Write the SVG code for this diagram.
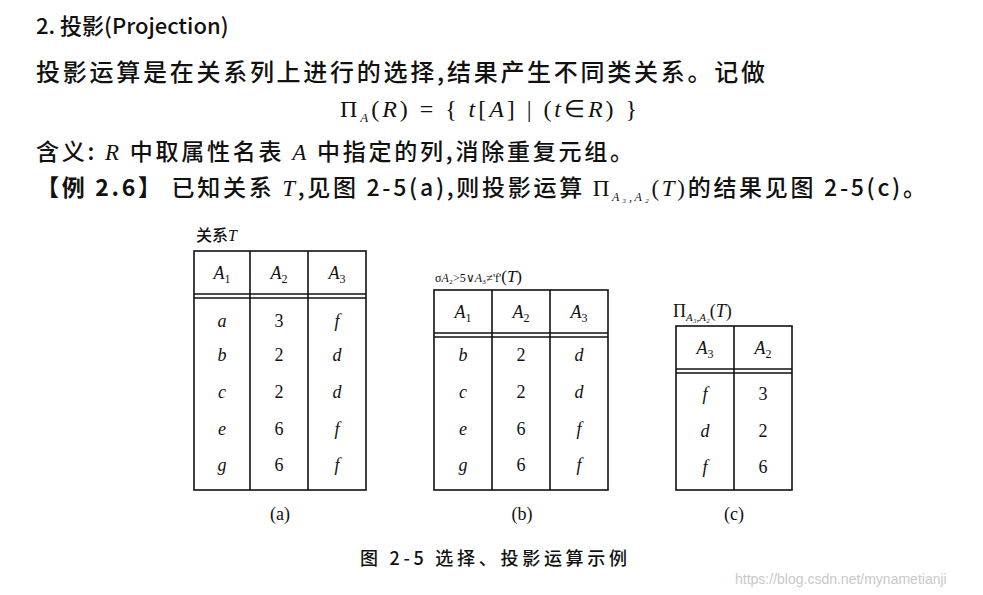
<svg xmlns="http://www.w3.org/2000/svg" width="983" height="595" viewBox="0 0 983 595">
<style>
.cn{font-family:"Noto Sans CJK SC","Liberation Sans",sans-serif;fill:#111;font-weight:500}
.m{font-family:"Liberation Serif",serif;fill:#111}
.i{font-family:"Liberation Serif",serif;font-style:italic;fill:#111}
.c{font-family:"Liberation Serif",serif;font-style:italic;fill:#111;font-size:18px;text-anchor:middle}
.n{font-family:"Liberation Serif",serif;fill:#111;font-size:18px;text-anchor:middle}
.t{fill:none;stroke:#111;stroke-width:1.6}
</style>
<rect width="983" height="595" fill="#fff"/>
<g id="text">
<text x="36" y="34" class="cn" font-size="22">2. 投影(Projection)</text>
<text x="36" y="81" class="cn" font-size="24" textLength="729" lengthAdjust="spacing">投影运算是在关系列上进行的选择,结果产生不同类关系。记做</text>
<text x="340" y="117" class="m" font-size="24" textLength="297" lengthAdjust="spacing">Π<tspan font-size="13" dy="5" font-style="italic">A</tspan><tspan dy="-5">(</tspan><tspan font-style="italic">R</tspan>) = { <tspan font-style="italic">t</tspan>[<tspan font-style="italic">A</tspan>] | (<tspan font-style="italic">t</tspan>∈<tspan font-style="italic">R</tspan>) }</text>
<text x="36" y="160" class="cn" font-size="23" textLength="597" lengthAdjust="spacing">含义: <tspan class="i">R</tspan> 中取属性名表 <tspan class="i">A</tspan> 中指定的列,消除重复元组。</text>
<text x="36" y="196" class="cn" font-size="23" textLength="890" lengthAdjust="spacing"><tspan font-weight="bold">【例 2.6】</tspan> 已知关系 <tspan class="i">T</tspan>,见图 2-5(a),则投影运算 <tspan class="m">Π<tspan font-size="12" dy="5" font-style="italic">A₃,A₂</tspan><tspan dy="-5">(</tspan><tspan font-style="italic">T</tspan>)</tspan>的结果见图 2-5(c)。</text>
</g>
<g id="tableA">
<text x="196" y="241" class="cn" font-size="16">关系<tspan class="i">T</tspan></text>
<rect x="194" y="251" width="172" height="239" class="t"/>
<line x1="250" y1="251" x2="250" y2="490" class="t"/><line x1="308" y1="251" x2="308" y2="490" class="t"/>
<line x1="194" y1="294" x2="366" y2="294" class="t"/><line x1="194" y1="298" x2="366" y2="298" class="t"/>
<text x="222" y="279" class="c">A<tspan font-size="12" dy="4" font-style="normal">1</tspan></text>
<text x="279" y="279" class="c">A<tspan font-size="12" dy="4" font-style="normal">2</tspan></text>
<text x="337" y="279" class="c">A<tspan font-size="12" dy="4" font-style="normal">3</tspan></text>
<text x="222" y="327" class="c">a</text><text x="279" y="327" class="n">3</text><text x="337" y="327" class="c">f</text>
<text x="222" y="361" class="c">b</text><text x="279" y="361" class="n">2</text><text x="337" y="361" class="c">d</text>
<text x="222" y="398" class="c">c</text><text x="279" y="398" class="n">2</text><text x="337" y="398" class="c">d</text>
<text x="222" y="435" class="c">e</text><text x="279" y="435" class="n">6</text><text x="337" y="435" class="c">f</text>
<text x="222" y="471" class="c">g</text><text x="279" y="471" class="n">6</text><text x="337" y="471" class="c">f</text>
<text x="280" y="520" class="n">(a)</text>
</g>
<g id="tableB">
<text x="435" y="282" class="m" font-size="12">σ<tspan font-style="italic">A</tspan>₂&gt;5∨<tspan font-style="italic">A</tspan>₃≠'f'<tspan font-size="17">(<tspan font-style="italic">T</tspan>)</tspan></text>
<rect x="434" y="290" width="174" height="200" class="t"/>
<line x1="492" y1="290" x2="492" y2="490" class="t"/><line x1="550" y1="290" x2="550" y2="490" class="t"/>
<line x1="434" y1="333" x2="608" y2="333" class="t"/><line x1="434" y1="337" x2="608" y2="337" class="t"/>
<text x="463" y="318" class="c">A<tspan font-size="12" dy="4" font-style="normal">1</tspan></text>
<text x="521" y="318" class="c">A<tspan font-size="12" dy="4" font-style="normal">2</tspan></text>
<text x="579" y="318" class="c">A<tspan font-size="12" dy="4" font-style="normal">3</tspan></text>
<text x="463" y="361" class="c">b</text><text x="521" y="361" class="n">2</text><text x="579" y="361" class="c">d</text>
<text x="463" y="398" class="c">c</text><text x="521" y="398" class="n">2</text><text x="579" y="398" class="c">d</text>
<text x="463" y="435" class="c">e</text><text x="521" y="435" class="n">6</text><text x="579" y="435" class="c">f</text>
<text x="463" y="471" class="c">g</text><text x="521" y="471" class="n">6</text><text x="579" y="471" class="c">f</text>
<text x="522" y="520" class="n">(b)</text>
</g>
<g id="tableC">
<text x="673" y="317" class="m" font-size="18">Π<tspan font-size="11" dy="4" font-style="italic">A₃,A₂</tspan><tspan dy="-4">(</tspan><tspan font-style="italic">T</tspan>)</text>
<rect x="676" y="326" width="116" height="164" class="t"/>
<line x1="734" y1="326" x2="734" y2="490" class="t"/>
<line x1="676" y1="369" x2="792" y2="369" class="t"/><line x1="676" y1="373" x2="792" y2="373" class="t"/>
<text x="705" y="354" class="c">A<tspan font-size="12" dy="4" font-style="normal">3</tspan></text>
<text x="763" y="354" class="c">A<tspan font-size="12" dy="4" font-style="normal">2</tspan></text>
<text x="705" y="400" class="c">f</text><text x="763" y="400" class="n">3</text>
<text x="705" y="437" class="c">d</text><text x="763" y="437" class="n">2</text>
<text x="705" y="473" class="c">f</text><text x="763" y="473" class="n">6</text>
<text x="734" y="520" class="n">(c)</text>
</g>
<g id="caption">
<text x="360" y="565" class="cn" font-size="18" textLength="267" lengthAdjust="spacing">图 2-5   选择、投影运算示例</text>
<text x="735" y="584" font-family="Liberation Sans,sans-serif" font-size="14" fill="#c8c8c8">https://blog.csdn.net/mynametianji</text>
</g>
</svg>
